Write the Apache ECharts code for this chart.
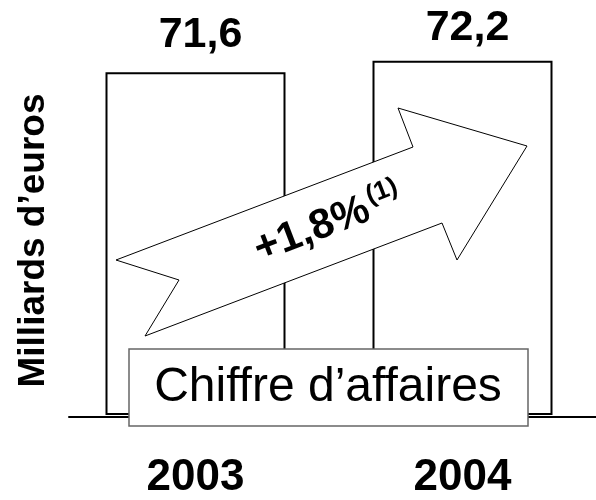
<!DOCTYPE html>
<html>
<head>
<meta charset="utf-8">
<script src="https://cdn.jsdelivr.net/npm/echarts@6/dist/echarts.min.js"></script>
<style>
  html, body { margin: 0; padding: 0; background: #fff; }
  #container { width: 596px; height: 500px; }
</style>
</head>
<body>
<div id="container"></div>
<script>
// données du graphique
var years = ['2003', '2004']
var revenue = [71.6, 72.2]
var growthLabel = '+1,8%'
var growthNote = '(1)'
var boxTitle = 'Chiffre d\u2019affaires'
var axisTitle = 'Milliards d\u2019euros'

var font = '"Liberation Sans", Arial, sans-serif'
var labelGap = [16, 11] // écart étiquette / haut de barre

var dom = document.getElementById('container')
var myChart = echarts.init(dom)

// virgule décimale à la française
function frNumber(v) {
    return String(v).replace('.', ',')
}

var barData = revenue.map(function (v, i) {
    return { value: v, label: { distance: labelGap[i] } }
})

var option = {
    animation: false,
    backgroundColor: '#fff',
    grid: [
        { left: 62, right: 0, top: 0, bottom: 83 },
        { left: 69, right: 0, top: 64, bottom: 83 }
    ],
    xAxis: [
        {
            type: 'category',
            gridIndex: 0,
            data: years,
            axisLine: { show: false },
            axisTick: { show: false },
            axisLabel: {
                margin: 42,
                fontFamily: font,
                fontSize: 44,
                fontWeight: 'bold',
                color: '#000'
            }
        },
        {
            // ligne de base
            type: 'value',
            gridIndex: 1,
            min: 0,
            max: 1,
            axisLine: { show: true, lineStyle: { color: '#000', width: 2 } },
            axisTick: { show: false },
            axisLabel: { show: false },
            splitLine: { show: false }
        }
    ],
    yAxis: [
        {
            type: 'value',
            gridIndex: 0,
            min: 53.6,
            max: 75.4,
            axisLine: { show: false },
            axisTick: { show: false },
            axisLabel: { show: false },
            splitLine: { show: false }
        },
        {
            type: 'value',
            gridIndex: 1,
            name: axisTitle,
            nameLocation: 'middle',
            nameGap: 17,
            nameTextStyle: {
                fontFamily: font,
                fontSize: 37,
                fontWeight: 'bold',
                color: '#000'
            },
            axisLine: { show: false },
            axisTick: { show: false },
            axisLabel: { show: false },
            splitLine: { show: false }
        }
    ],
    series: [{
        type: 'bar',
        xAxisIndex: 0,
        yAxisIndex: 0,
        data: barData,
        barWidth: 180,
        itemStyle: { color: '#fff', borderColor: '#000', borderWidth: 2 },
        label: {
            show: true,
            position: 'top',
            offset: [5, 0],
            formatter: function (p) { return frNumber(p.value) },
            fontFamily: font,
            fontSize: 43,
            fontWeight: 'bold',
            color: '#000'
        }
    }],
    graphic: [
        {
            // flèche de progression
            type: 'polygon',
            z: 100,
            shape: {
                points: [[116, 260], [179, 280], [145, 336], [442, 223],
                    [457, 260], [527, 146], [398, 108], [413, 147]]
            },
            style: { fill: '#fff', stroke: '#000', lineWidth: 1 }
        },
        {
            type: 'group',
            z: 101,
            x: 312,
            y: 230,
            rotation: 21 * Math.PI / 180,
            children: [
                {
                    type: 'text',
                    z: 101,
                    style: {
                        text: growthLabel,
                        x: 0, y: 0,
                        align: 'center',
                        verticalAlign: 'middle',
                        font: 'bold 42px ' + font,
                        fill: '#000'
                    }
                },
                {
                    type: 'text',
                    z: 101,
                    style: {
                        text: growthNote,
                        x: 63, y: -11,
                        align: 'left',
                        verticalAlign: 'middle',
                        font: 'bold 26px ' + font,
                        fill: '#000'
                    }
                }
            ]
        },
        {
            type: 'rect',
            z: 110,
            shape: { x: 129, y: 349, width: 399, height: 77 },
            style: { fill: '#fff', stroke: '#666', lineWidth: 1.5 }
        },
        {
            type: 'text',
            z: 111,
            style: {
                text: boxTitle,
                x: 328, y: 388,
                align: 'center',
                verticalAlign: 'middle',
                font: '48px ' + font,
                fill: '#000'
            }
        }
    ]
}

myChart.setOption(option)
</script>
</body>
</html>
